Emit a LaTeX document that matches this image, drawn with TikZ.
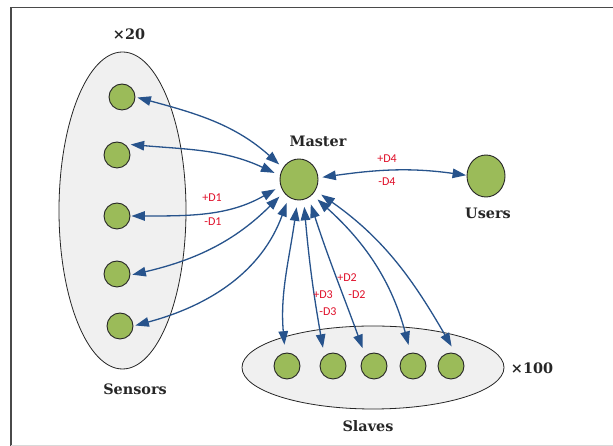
\documentclass[tikz,border=0pt]{standalone}
\usepackage{fontspec}
\setmainfont{DejaVu Serif}
\newfontfamily\dfont{Carlito}
\usetikzlibrary{arrows.meta,shapes.geometric}
\definecolor{leafgreen}{HTML}{9BBB59}
\definecolor{groupgray}{HTML}{F0F0F0}
\definecolor{linkblue}{HTML}{27538C}
\definecolor{dred}{HTML}{E0102A}
\definecolor{framegray}{HTML}{4A4A4A}
\begin{document}
\begin{tikzpicture}[x=1pt,y=1pt,
  dot/.style={circle,draw=black!85,line width=0.9pt,fill=leafgreen,minimum size=26pt,inner sep=0pt},
  bigdot/.style={ellipse,draw=black!85,line width=0.9pt,fill=leafgreen,minimum width=38pt,minimum height=41pt,inner sep=0pt},
  group/.style={ellipse,draw=black!85,line width=0.8pt,fill=groupgray,inner sep=0pt},
  lbl/.style={font=\fontsize{14.4}{16}\selectfont\bfseries,text=black!85,inner sep=0pt},
  dl/.style={font=\dfont\fontsize{12}{14}\selectfont,text=dred,inner sep=0pt},
  link/.style={draw=linkblue,line width=1.3pt,
    {Triangle[length=13.5pt,width=9.5pt]}-{Triangle[length=13.5pt,width=9.5pt]}},
]
\useasboundingbox (0,0) rectangle (613,446);
\fill[white] (0,0) rectangle (613,446);
% frame
\draw[framegray,line width=1.6pt] (11,0) -- (11,438.5) -- (613,438.5);
\draw[black!15,line width=0.8pt] (11,0.5) -- (613,0.5);

% groups
\node[group,minimum width=127pt,minimum height=317pt] (sensors) at (122.5,235.5) {};
\node[group,minimum width=262pt,minimum height=83pt] (slaves) at (373,78.5) {};

% sensor nodes
\node[dot] (s1) at (122,349) {};
\node[dot] (s2) at (117,291) {};
\node[dot] (s3) at (117,230) {};
\node[dot] (s4) at (117,172) {};
\node[dot] (s5) at (120,120) {};

% slave nodes
\node[dot] (sl1) at (287,80) {};
\node[dot] (sl2) at (333,80) {};
\node[dot] (sl3) at (374,80) {};
\node[dot] (sl4) at (413,80) {};
\node[dot] (sl5) at (451,80) {};

% master and users
\node[bigdot] (m) at (299,266.5) {};
\node[bigdot,minimum height=42pt] (u) at (486,270) {};

% labels
\node[lbl] (t20) at (129,412) {×20};
\node[lbl] (tsens) at (135,57) {Sensors};
\node[lbl] (tmaster) at (318,305) {Master};
\node[lbl] (tusers) at (488,233) {Users};
\node[lbl] (tslaves) at (368,20) {Slaves};
\node[lbl] (t100) at (532,78) {×100};

% sensor links
\draw[link,shorten <=2pt,shorten >=5pt] (s1.east) to[out=-15,in=138] (m.144);
\draw[link,shorten <=6pt,shorten >=6pt] (s2.55) to[out=-5,in=155] (m.168);
\draw[link,shorten <=1pt,shorten >=6pt] (s3.east) to[out=0,in=210] (m.200);
\draw[link,shorten <=2pt,shorten >=6pt] (s4.-5) to[out=13,in=225] (m.220);
\draw[link,shorten <=2pt,shorten >=6pt] (s5.east) to[out=15,in=250] (m.240);

% slave links
\draw[link,shorten <=7pt,shorten >=8pt] (m.266) to[out=262,in=95] (sl1.98);
\draw[link,shorten <=7pt,shorten >=8pt] (m.283) to[out=275,in=100] (sl2.130);
\draw[link,shorten <=7pt,shorten >=8pt] (m.298) to[out=288,in=110] (sl3.130);
\draw[link,shorten <=7pt,shorten >=8pt] (m.311) to[out=-42,in=105] (sl4.100);
\draw[link,shorten <=7pt,shorten >=8pt] (m.326) to[out=-35,in=120] (sl5.70);

% users link
\draw[link,shorten <=4pt,shorten >=0.5pt] (m.5) to[out=8,in=172] (u.178);

% data labels
\node[dl] (pd1) at (212,248) {+D1};
\node[dl] (md1) at (213,224) {-D1};
\node[dl] (pd4) at (387,287) {+D4};
\node[dl] (md4) at (387,264) {-D4};
\node[dl] (pd2) at (347,168) {+D2};
\node[dl] (md2) at (357,151) {-D2};
\node[dl] (pd3) at (323,151) {+D3};
\node[dl] (md3) at (328,134) {-D3};
\end{tikzpicture}
\end{document}
